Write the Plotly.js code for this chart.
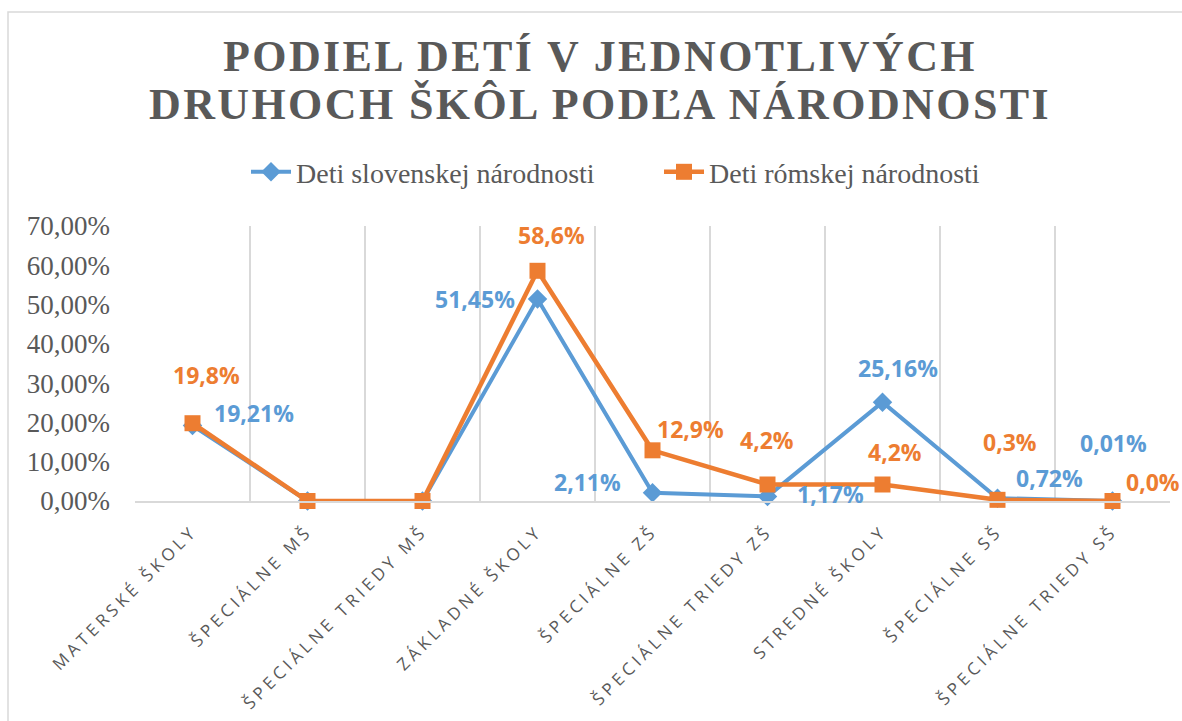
<!DOCTYPE html>
<html>
<head>
<meta charset="utf-8">
<script src="https://cdn.plot.ly/plotly-3.0.1.min.js"></script>
<style>
  html, body { margin: 0; padding: 0; background: #fff; }
  #chart { width: 1182px; height: 721px; }
  .gtitle { letter-spacing: 2.4px; }
  .xtick text { letter-spacing: 4px; }
</style>
</head>
<body>
<div id="chart"></div>
<script>
// ---- data ----
var categories = ['MATERSKÉ ŠKOLY', 'ŠPECIÁLNE MŠ', 'ŠPECIÁLNE TRIEDY MŠ', 'ZÁKLADNÉ ŠKOLY', 'ŠPECIÁLNE ZŠ', 'ŠPECIÁLNE TRIEDY ZŠ', 'STREDNÉ ŠKOLY', 'ŠPECIÁLNE SŠ', 'ŠPECIÁLNE TRIEDY SŠ'];
var slovakValues = [19.21, 0, 0, 51.45, 2.11, 1.17, 25.16, 0.72, 0.01];
var romaValues = [19.8, 0, 0, 58.6, 12.9, 4.2, 4.2, 0.3, 0.0];
var slovakName = 'Deti slovenskej národnosti';
var romaName = 'Deti rómskej národnosti';
var yTickValues = [0, 10, 20, 30, 40, 50, 60, 70];
var titleLines = ['PODIEL DETÍ V JEDNOTLIVÝCH', 'DRUHOCH ŠKÔL PODĽA NÁRODNOSTI'];

// ---- label placement (pixel offsets from each point; null = no label) ----
var slovakLabelOffsets = [[61, 13], null, null, [-63, 0], [-65, 11], [63, 2], [15, 34], [52, 20], [1, 58]];
var romaLabelOffsets = [[14, 48], null, null, [14, 36], [38, 21], [-1, 45], [12, 33], [12, 58], [40, 19]];

var BLUE = '#5B9BD5';
var ORANGE = '#ED7D31';
var GRAY = '#595959';

function pct(v, d) { return v.toFixed(d).replace('.', ',') + '%'; }

var traces = [
  {
    type: 'scatter', mode: 'lines+markers', name: slovakName,
    x: categories, y: slovakValues,
    line: { color: BLUE, width: 4 },
    marker: { symbol: 'diamond', size: 15, color: BLUE },
    cliponaxis: false, hoverinfo: 'skip'
  },
  {
    type: 'scatter', mode: 'lines+markers', name: romaName,
    x: categories, y: romaValues,
    line: { color: ORANGE, width: 4.5 },
    marker: { symbol: 'square', size: 16, color: ORANGE },
    cliponaxis: false, hoverinfo: 'skip'
  }
];

var annotations = [];
function addLabels(values, offsets, decimals, color) {
  values.forEach(function (v, i) {
    var o = offsets[i];
    if (!o) return;
    annotations.push({
      x: categories[i], y: v, xref: 'x', yref: 'y',
      text: pct(v, decimals), showarrow: false,
      xanchor: 'center', yanchor: 'middle',
      xshift: o[0], yshift: o[1],
      font: { family: 'Open Sans, sans-serif', size: 23, color: color, weight: 700 }
    });
  });
}
addLabels(slovakValues, slovakLabelOffsets, 2, BLUE);
addLabels(romaValues, romaLabelOffsets, 1, ORANGE);

var layout = {
  width: 1182, height: 721,
  margin: { l: 135, r: 12, t: 226, b: 220 },
  paper_bgcolor: '#ffffff', plot_bgcolor: '#ffffff',
  title: {
    text: titleLines.join('<br>'),
    font: { family: 'Liberation Serif, Times New Roman, serif', size: 44, color: GRAY, weight: 700 },
    x: 0.5 + 9 / 1182, xanchor: 'center', xref: 'container',
    y: 1 - 71 / 721, yanchor: 'top', yref: 'container'
  },
  showlegend: true,
  legend: {
    orientation: 'h', x: (246 - 135) / 1035, xanchor: 'left', y: 1.196, yanchor: 'middle',
    font: { family: 'Liberation Serif, Times New Roman, serif', size: 28, color: GRAY },
    itemwidth: 40, tracegroupgap: 0, entrywidth: 358, entrywidthmode: 'pixels'
  },
  xaxis: {
    type: 'category', range: [-0.5, 8.5],
    tickangle: -45, tickson: 'boundaries',
    showgrid: true, gridcolor: '#D9D9D9', gridwidth: 1.5,
    showline: true, linecolor: '#D9D9D9', linewidth: 1.5,
    ticks: '', ticklabelstandoff: 12,
    tickfont: { family: 'Open Sans, sans-serif', size: 17, color: GRAY },
    fixedrange: true, zeroline: false
  },
  yaxis: {
    range: [0, 70], tickvals: yTickValues,
    ticktext: yTickValues.map(function (v) { return pct(v, 2); }),
    showgrid: false, zeroline: false, showline: false, ticks: '',
    ticklabelstandoff: 24,
    tickfont: { family: 'Liberation Serif, Times New Roman, serif', size: 27, color: GRAY },
    fixedrange: true
  },
  annotations: annotations,
  shapes: [{
    type: 'rect', xref: 'paper', yref: 'paper',
    x0: (8 - 135) / 1035, x1: 1.2, y0: -1, y1: (501 - 12) / 275,
    line: { color: '#D9D9D9', width: 1.5 }, fillcolor: 'rgba(0,0,0,0)', layer: 'below'
  }]
};

Plotly.newPlot('chart', traces, layout, { displayModeBar: false, staticPlot: true }).then(function () {
  var lines = document.querySelectorAll('.gtitle tspan.line');
  if (lines.length > 1) { lines[1].setAttribute('dy', '1.09em'); }
});
</script>
</body>
</html>
